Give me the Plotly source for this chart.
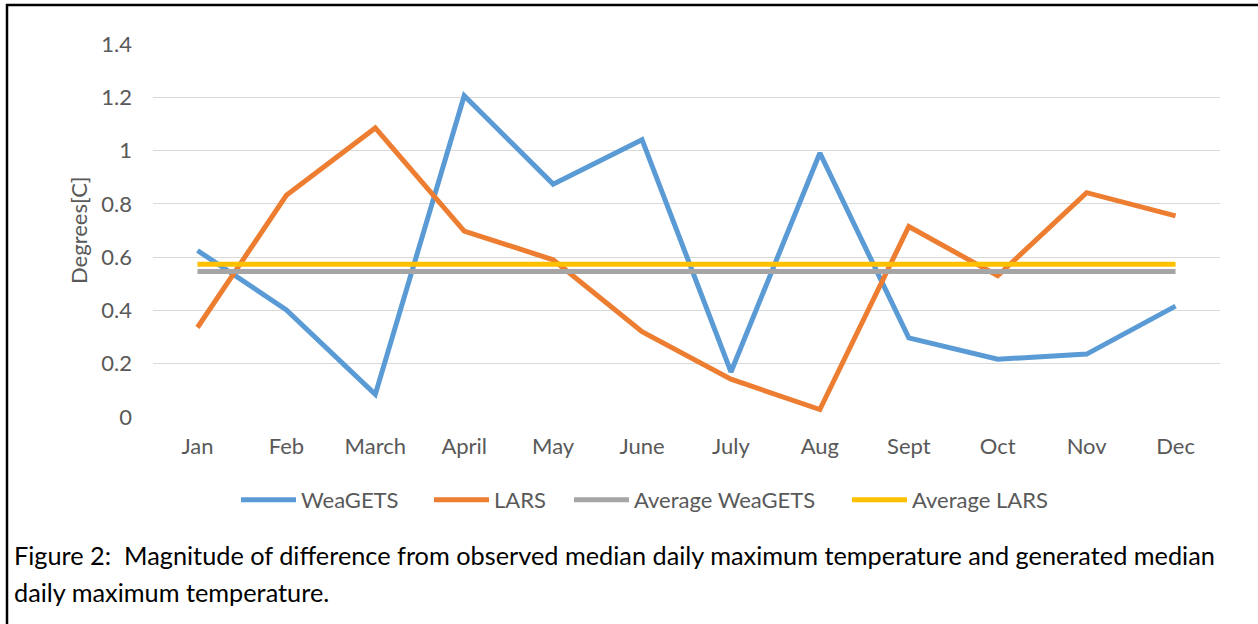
import plotly.graph_objects as go

months = ["Jan", "Feb", "March", "April", "May", "June", "July", "Aug", "Sept", "Oct", "Nov", "Dec"]
weagets = [0.625, 0.402, 0.085, 1.206, 0.874, 1.041, 0.169, 0.991, 0.297, 0.217, 0.236, 0.416]
lars = [0.336, 0.832, 1.085, 0.698, 0.59, 0.320, 0.142, 0.028, 0.715, 0.53, 0.842, 0.755]
avg_weagets = [0.546] * 12
avg_lars = [0.573] * 12
y_ticks = [0, 0.2, 0.4, 0.6, 0.8, 1, 1.2, 1.4]
y_tick_text = ["0", "0.2", "0.4", "0.6", "0.8", "1", "1.2", "1.4"]

W, H = 1258, 624
ML, MR, MT, MB = 153, 38, 44, 207
PW, PH = W - ML - MR, H - MT - MB


def px_x(x):
    return (x - ML) / PW


def px_y(y):
    return (H - MB - y) / PH


FONT = "Lato"
GREY_TXT = "#595959"

fig = go.Figure()
series = [
    ("WeaGETS", weagets, "#5B9BD5", 123),
    ("LARS", lars, "#ED7D31", 70),
    ("Average WeaGETS", avg_weagets, "#A5A5A5", 208),
    ("Average LARS", avg_lars, "#FFC000", 140),
]
for name, vals, col, lw in series:
    fig.add_trace(go.Scatter(x=months, y=vals, name=name, mode="lines",
                             line=dict(color=col, width=5), legendwidth=lw))

fig.update_layout(
    width=W, height=H,
    margin=dict(l=ML, r=MR, t=MT, b=MB, pad=0),
    paper_bgcolor="white", plot_bgcolor="white",
    font=dict(family=FONT, size=22, color=GREY_TXT),
    showlegend=True,
    legend=dict(orientation="h", x=px_x(236), xanchor="left", y=px_y(500), yanchor="middle",
                font=dict(family=FONT, size=22, color=GREY_TXT), itemwidth=55,
                bgcolor="rgba(0,0,0,0)", traceorder="normal"),
    xaxis=dict(type="category", showgrid=False, zeroline=False, showline=False, ticks="",
               tickfont=dict(family=FONT, size=22, color=GREY_TXT), ticklabelstandoff=14,
               range=[-0.5, 11.5]),
    yaxis=dict(range=[0, 1.4], tickvals=y_ticks, ticktext=y_tick_text, showgrid=True,
               gridcolor="#D9D9D9", gridwidth=1.3, zeroline=False, showline=False, ticks="",
               tickfont=dict(family=FONT, size=22, color=GREY_TXT), ticklabelstandoff=20),
)

# y-axis title
fig.add_annotation(text="Degrees[C]", textangle=-90, xref="paper", yref="paper",
                   x=px_x(78), y=px_y(230), xanchor="center", yanchor="middle",
                   showarrow=False, font=dict(family=FONT, size=22, color=GREY_TXT))

# caption
fig.add_annotation(text="Figure 2:  Magnitude of difference from observed median daily maximum temperature and generated median",
                   xref="paper", yref="paper", x=px_x(12), y=px_y(555), xanchor="left", yanchor="middle",
                   showarrow=False, font=dict(family=FONT, size=25.3, color="black"))
fig.add_annotation(text="daily maximum temperature.",
                   xref="paper", yref="paper", x=px_x(12), y=px_y(592), xanchor="left", yanchor="middle",
                   showarrow=False, font=dict(family=FONT, size=25.3, color="black"))

# frame lines (top and left)
fig.add_shape(type="line", xref="paper", yref="paper", x0=px_x(6), x1=px_x(1260), y0=px_y(5), y1=px_y(5),
              line=dict(color="black", width=2.5))
fig.add_shape(type="line", xref="paper", yref="paper", x0=px_x(7), x1=px_x(7), y0=px_y(4), y1=px_y(630),
              line=dict(color="black", width=2.5))

fig.write_html("out.html", config={"displayModeBar": False},
               post_script="document.body.style.margin='0';document.body.style.padding='0';")
